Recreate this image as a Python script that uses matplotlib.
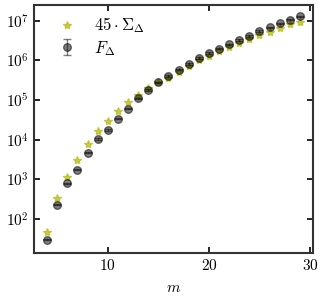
import numpy as np
import matplotlib
matplotlib.use("Agg")
from matplotlib import pyplot as plt

plt.rcParams['font.family'] = 'serif'
plt.rcParams['font.serif'] = ['cmr10']
plt.rcParams['mathtext.fontset'] = 'cm'
plt.rcParams['axes.formatter.use_mathtext'] = True
plt.rcParams['font.size'] = 11

#data
m = np.arange(4, 30)
sigma = [1.04, 7.5, 26, 67, 172, 369, 671, 1166, 1980, 2930, 4430, 6260, 8070,
         11400, 15950, 22200, 29000, 38200, 49100, 60900, 75300, 97000, 117800,
         148500, 180700, 210700]
F = [30, 229, 783, 1740, 4680, 10350, 17400, 33900, 61000, 111000, 178000, 282000,
     407000, 589000, 813000, 1.16e6, 1.53e6, 2.0e6, 2.57e6, 3.31e6, 4.17e6, 5.5e6,
     6.84e6, 8.65e6, 1.07e7, 1.30e7]
F_err = [0.04 * f for f in F]

fig = plt.figure(figsize=(3.24, 3.0), dpi=100)
ax = fig.add_axes([0.105, 0.157, 0.861, 0.826])

ax.plot(m, 45 * np.array(sigma), '*', color='tab:olive', ms=6, alpha=0.8,
        label=r'$45\cdot\Sigma_\Delta$')
ax.errorbar(m, F, yerr=F_err, fmt='o', color='k', ms=5.5, alpha=0.5,
            capsize=3, elinewidth=1, label=r'$F_\Delta$')

ax.set_yscale('log')
ax.set_xlim(2.7, 30.3)
ax.set_ylim(13.8, 2.5e7)
ax.set_xticks([10, 20, 30])
ax.set_yticks([1e2, 1e3, 1e4, 1e5, 1e6, 1e7])
ax.minorticks_off()
ax.tick_params(direction='in', top=True, right=True, length=4, width=1.2)
for s in ax.spines.values():
    s.set_linewidth(1.5)
    s.set_color('#333333')
ax.set_xlabel(r'$m$', labelpad=6)
ax.legend(loc='upper left', frameon=False, fontsize=12, handletextpad=0.6,
          borderaxespad=0.6, labelspacing=0.2, bbox_to_anchor=(0.0, 1.025))

plt.savefig('out.png', dpi=100)
